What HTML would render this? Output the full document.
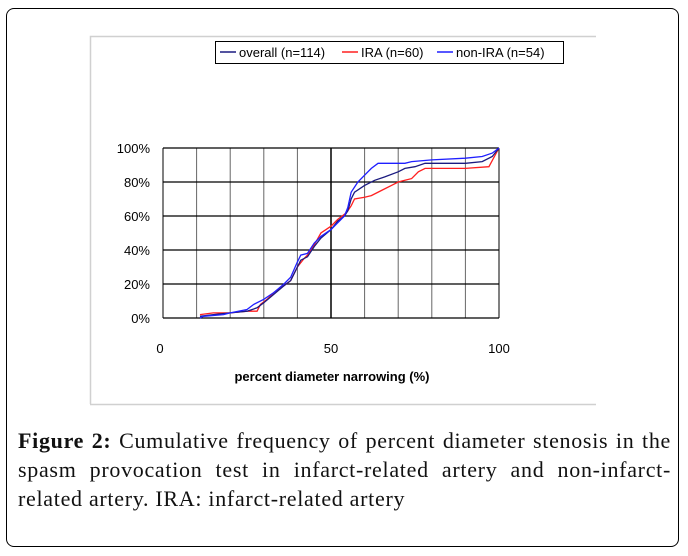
<!DOCTYPE html>
<html><head><meta charset="utf-8"><style>
body{margin:0;background:#fff;width:688px;height:556px;position:relative;overflow:hidden;font-family:"Liberation Sans",sans-serif}
#outer{position:absolute;left:6px;top:8px;width:673px;height:539px;border:1.5px solid #000;border-radius:8px;box-sizing:border-box}
#caption{position:absolute;left:18px;top:426px;width:653px;font-family:"Liberation Serif",serif;font-size:22px;letter-spacing:0.7px;line-height:29px;color:#111}
#caption span.ln{display:block;text-align:justify;text-align-last:justify;white-space:nowrap}
#caption span.last{text-align-last:left}
</style></head><body>
<div id="outer"></div>
<svg id="chart" width="688" height="556" style="position:absolute;left:0;top:0" xmlns="http://www.w3.org/2000/svg"></svg>
<div id="caption"><span class="ln"><b style="font-weight:600">Figure 2:</b> Cumulative frequency of percent diameter stenosis in the</span><span class="ln">spasm provocation test in infarct-related artery and non-infarct-</span><span class="ln last">related artery. IRA: infarct-related artery</span></div>
<script>
const xTicks=[0,50,100];
const yTicks=[0,20,40,60,80,100];
const yTickLabels=["0%","20%","40%","60%","80%","100%"];
const overallX=[11,15,20,25,28,30,33,36,38,40,41,43,45,47,50,52,54,55,56,57,60,63,66,70,72,75,78,80,90,95,98,100];
const overallY=[1,2,3,4,6,9,14,19,22,30,34,36,42,47,52,57,60,63,70,74,78,81,83,86,88,89,91,91,91,92,95,100];
const iraX=[11,15,20,25,28,29,31,33,36,38,40,42,43,45,47,50,52,54,55,56,57,60,62,65,68,70,72,74,76,78,80,90,97,100];
const iraY=[2,3,3,4,4,8,11,15,19,22,30,35,37,43,50,54,58,61,63,66,70,71,72,75,78,80,81,82,86,88,88,88,89,100];
const nonX=[11,12,18,20,25,27,30,33,36,38,40,41,43,45,47,50,52,54,55,56,57,58,60,62,64,70,72,74,80,90,95,98,100];
const nonY=[0,1,2,3,5,8,11,15,20,24,33,37,38,44,48,52,56,60,65,74,77,80,84,88,91,91,91,92,93,94,95,97,100];
const NS="http://www.w3.org/2000/svg";
const svg=document.getElementById('chart');
const X0=163,X1=499,Y0=318,Y1=148;
const xs=v=>X0+(X1-X0)*v/100, ys=v=>Y0-(Y0-Y1)*v/100;
function el(t,a){const e=document.createElementNS(NS,t);for(const k in a)e.setAttribute(k,a[k]);svg.appendChild(e);return e;}
let f=el('path',{d:'M90.5,404 V36.5 H596',fill:'none',stroke:'#d0d0d0','stroke-width':1.5});


let fb=el('line',{x1:90,y1:404.5,x2:596,y2:404.5,stroke:'#d0d0d0','stroke-width':1.5});


for(let i=0;i<=10;i++){let v=i*10;let g=el('line',{x1:xs(v),y1:Y1,x2:xs(v),y2:Y0,stroke:(i==0||i==5||i==10)?'#000':'#666','stroke-width':(i==5)?1.5:1});

}
yTicks.forEach((v,i)=>{let g=el('line',{x1:X0,y1:ys(v),x2:X1,y2:ys(v),stroke:'#000','stroke-width':1.3});


let t=el('text',{x:150,y:ys(v)+5,'text-anchor':'end','font-size':13,fill:'#000'});t.textContent=yTickLabels[i];

});
xTicks.forEach(v=>{let t=el('text',{x:xs(v)-(v==0?3:0),y:353,'text-anchor':'middle','font-size':13,fill:'#000'});t.textContent=v;

});
let xt=el('text',{x:332,y:381,'text-anchor':'middle','font-size':13,'font-weight':'bold',fill:'#000'});xt.textContent='percent diameter narrowing (%)';


function line(X,Y,c,n){let p=el('polyline',{points:X.map((x,i)=>xs(x)+','+ys(Y[i])).join(' '),fill:'none',stroke:c,'stroke-width':1.3});

}
line(iraX,iraY,'#ff2020','ira-line');
line(overallX,overallY,'#1a1a80','overall-line');
line(nonX,nonY,'#1f1fff','non-ira-line');
let lb=el('rect',{x:215.5,y:41.5,width:348,height:22,fill:'#fff',stroke:'#000','stroke-width':1});


[[220,'#1a1a80','overall (n=114)'],[342,'#ff2020','IRA (n=60)'],[437,'#1f1fff','non-IRA (n=54)']].forEach(d=>{
let l=el('line',{x1:d[0],y1:52,x2:d[0]+16,y2:52,stroke:d[1],'stroke-width':1.5});


let t=el('text',{x:d[0]+19,y:57,'font-size':13,fill:'#000'});t.textContent=d[2];

});
</script>
</body></html>
